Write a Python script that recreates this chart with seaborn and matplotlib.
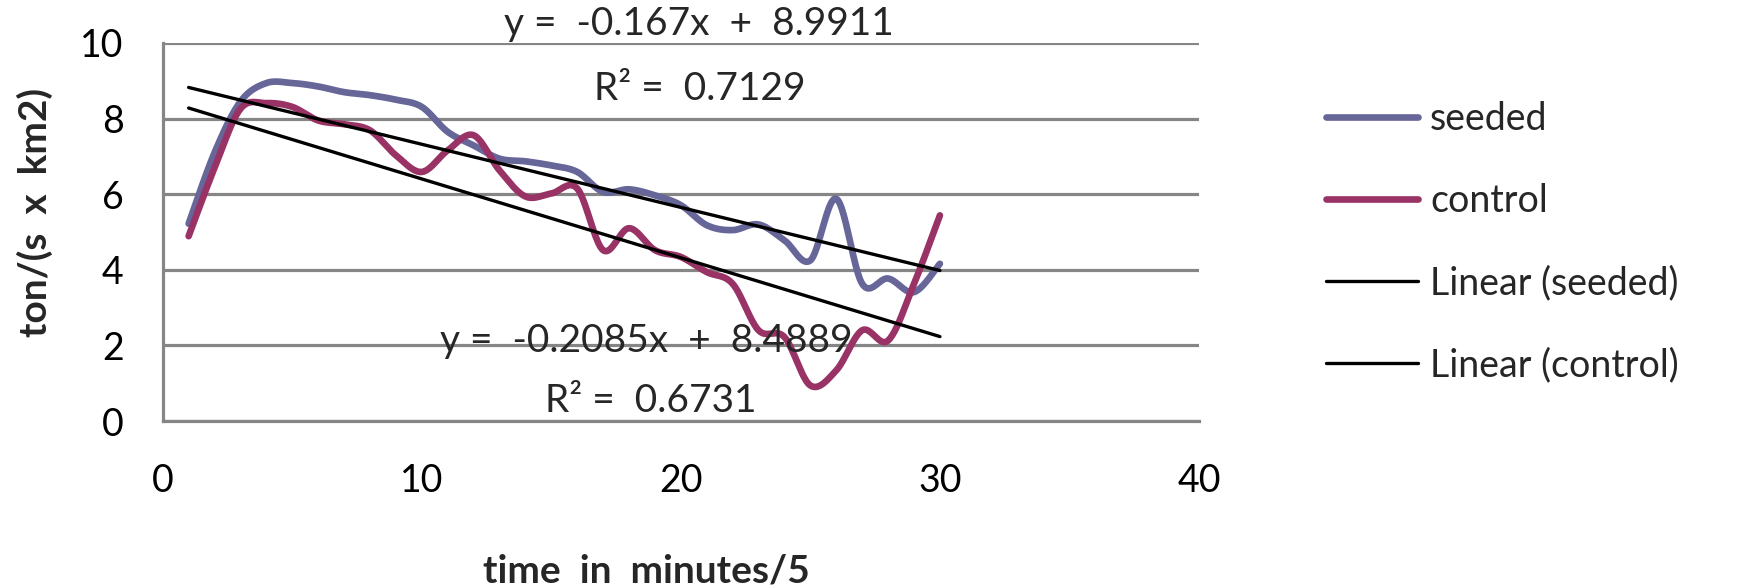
import numpy as np
import matplotlib
matplotlib.use("Agg")
import matplotlib.pyplot as plt
import seaborn as sns

# time step (minutes/5) and flux values for each series
minutes = list(range(1, 31))
seeded = [5.22, 7.10, 8.45, 8.94, 8.94, 8.85, 8.70, 8.62, 8.50, 8.31,
          7.65, 7.29, 6.94, 6.87, 6.76, 6.59, 6.06, 6.13, 5.97, 5.71,
          5.18, 5.05, 5.20, 4.78, 4.25, 5.88, 3.63, 3.77, 3.41, 4.16]
control = [4.89, 6.70, 8.26, 8.41, 8.31, 7.95, 7.85, 7.69, 7.03, 6.59,
           7.16, 7.56, 6.63, 5.94, 6.02, 6.15, 4.52, 5.10, 4.52, 4.34,
           3.94, 3.63, 2.40, 2.22, 0.94, 1.34, 2.40, 2.13, 3.63, 5.44]

# linear trend coefficients (slope, intercept, R^2)
seeded_fit = (-0.167, 8.9911, 0.7129)
control_fit = (-0.2085, 8.4889, 0.6731)

x_ticks = [0, 10, 20, 30, 40]
y_ticks = [0, 2, 4, 6, 8, 10]

SEEDED_COLOR = "#666699"
CONTROL_COLOR = "#993366"
GRID_COLOR = "#868686"


def smooth_curve(xs, ys, steps=24):
    """Catmull-Rom path through the points, like a smoothed spreadsheet line."""
    pts = np.column_stack([xs, ys]).astype(float)
    padded = np.vstack([pts[0], pts, pts[-1]])
    t = np.linspace(0, 1, steps, endpoint=False)[:, None]
    parts = []
    for i in range(1, len(padded) - 2):
        p0, p1, p2, p3 = padded[i - 1], padded[i], padded[i + 1], padded[i + 2]
        seg = 0.5 * (2 * p1 + (p2 - p0) * t
                     + (2 * p0 - 5 * p1 + 4 * p2 - p3) * t ** 2
                     + (-p0 + 3 * p1 - 3 * p2 + p3) * t ** 3)
        parts.append(seg)
    parts.append(pts[-1:])
    path = np.vstack(parts)
    return path[:, 0], path[:, 1]


sns.set_theme(style="white")
plt.rcParams["font.family"] = ["Lato", "DejaVu Sans"]

fig = plt.figure(figsize=(17.46, 5.85), dpi=100)
ax = fig.add_axes([0.0932, 0.2803, 0.5935, 0.6462])

sx, sy = smooth_curve(minutes, seeded)
cx, cy = smooth_curve(minutes, control)
sns.lineplot(x=sx, y=sy, sort=False, estimator=None, color=SEEDED_COLOR,
             lw=4.8, label="seeded", ax=ax, zorder=3)
sns.lineplot(x=cx, y=cy, sort=False, estimator=None, color=CONTROL_COLOR,
             lw=4.8, label="control", ax=ax, zorder=3)

xs = np.array(minutes, dtype=float)
sns.lineplot(x=xs, y=seeded_fit[0] * xs + seeded_fit[1], color="black",
             lw=2.4, label="Linear (seeded)", ax=ax, zorder=4)
sns.lineplot(x=xs, y=control_fit[0] * xs + control_fit[1], color="black",
             lw=2.4, label="Linear (control)", ax=ax, zorder=4)

ax.set_xlim(0, 40)
ax.set_ylim(0, 10)
ax.set_xticks(x_ticks)
ax.set_yticks(y_ticks)
ax.tick_params(axis="both", length=0, labelsize=27, colors="black")
ax.tick_params(axis="x", pad=30)
ax.tick_params(axis="y", pad=28)

ax.grid(axis="y", color=GRID_COLOR, lw=2.3)
ax.grid(axis="x", visible=False)
for side in ("top", "right"):
    ax.spines[side].set_visible(False)
for side in ("left", "bottom"):
    ax.spines[side].set_color(GRID_COLOR)
    ax.spines[side].set_linewidth(2.3)

ax.set_xlabel("time  in  minutes/5", fontsize=28, fontweight="bold")
ax.set_ylabel("ton/(s  x  km2)", fontsize=28, fontweight="bold")
ax.xaxis.set_label_coords(0.467, -0.35)
ax.yaxis.set_label_coords(-0.106, 0.553)

def eq_text(fit):
    return f"y =  {fit[0]}x  +  {fit[1]}"

ax.text(20.7, 10.49, eq_text(seeded_fit), fontsize=28, ha="center", va="center")
ax.text(20.74, 8.77, f"R² =  {seeded_fit[2]}", fontsize=28, ha="center", va="center")
ax.text(18.66, 2.13, eq_text(control_fit), fontsize=28, ha="center", va="center")
ax.text(18.82, 0.52, f"R² =  {control_fit[2]}", fontsize=28, ha="center", va="center")

ax.legend(loc="upper left", bbox_to_anchor=(1326 / 1746, 1 - 101 / 585),
          bbox_transform=fig.transFigure, frameon=False, fontsize=27,
          borderpad=0, borderaxespad=0, handlelength=2.45,
          handletextpad=0.32, labelspacing=1.23)

fig.savefig("out.png", dpi=100)
